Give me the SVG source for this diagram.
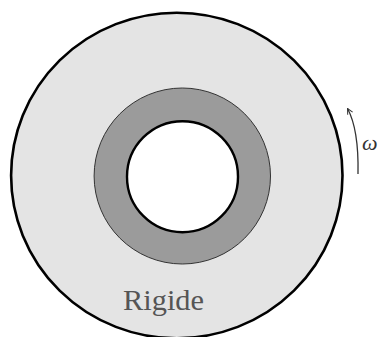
<svg xmlns="http://www.w3.org/2000/svg" width="378" height="337" viewBox="0 0 378 337">
<style>
.lbl{font-family:"Liberation Serif","Times New Roman",serif;fill:#555}
</style>
<defs>
<marker id="ah" viewBox="0 0 10 10" refX="9" refY="5" markerWidth="7" markerHeight="7" orient="auto" markerUnits="userSpaceOnUse">
<path d="M1,1 L9,5 L1,9" fill="none" stroke="#333" stroke-width="1.4"/>
</marker>
</defs>
<rect width="378" height="337" fill="#fff"/>
<g id="rigide">
<ellipse cx="176.8" cy="175.5" rx="165.7" ry="162.8" fill="#e4e4e4" stroke="#000" stroke-width="2.6"/>
<text class="lbl" x="123" y="310" font-size="30" textLength="81" lengthAdjust="spacingAndGlyphs">Rigide</text>
</g>
<g id="anneau">
<ellipse cx="182.3" cy="176" rx="88.2" ry="88" fill="#9b9b9b" stroke="#333" stroke-width="1"/>
</g>
<g id="trou">
<circle cx="182.5" cy="176.7" r="55.5" fill="#fff" stroke="#000" stroke-width="2.4"/>
</g>
<g id="connectors">
<path d="M358,174 C358.5,150 357,126 347.5,108.5" fill="none" stroke="#333" stroke-width="1.3" marker-end="url(#ah)"/>
</g>
<g id="omega">
<text x="362" y="150" font-size="22" font-style="italic" font-family="'Liberation Serif','Times New Roman',serif" fill="#333">ω</text>
</g>
</svg>
